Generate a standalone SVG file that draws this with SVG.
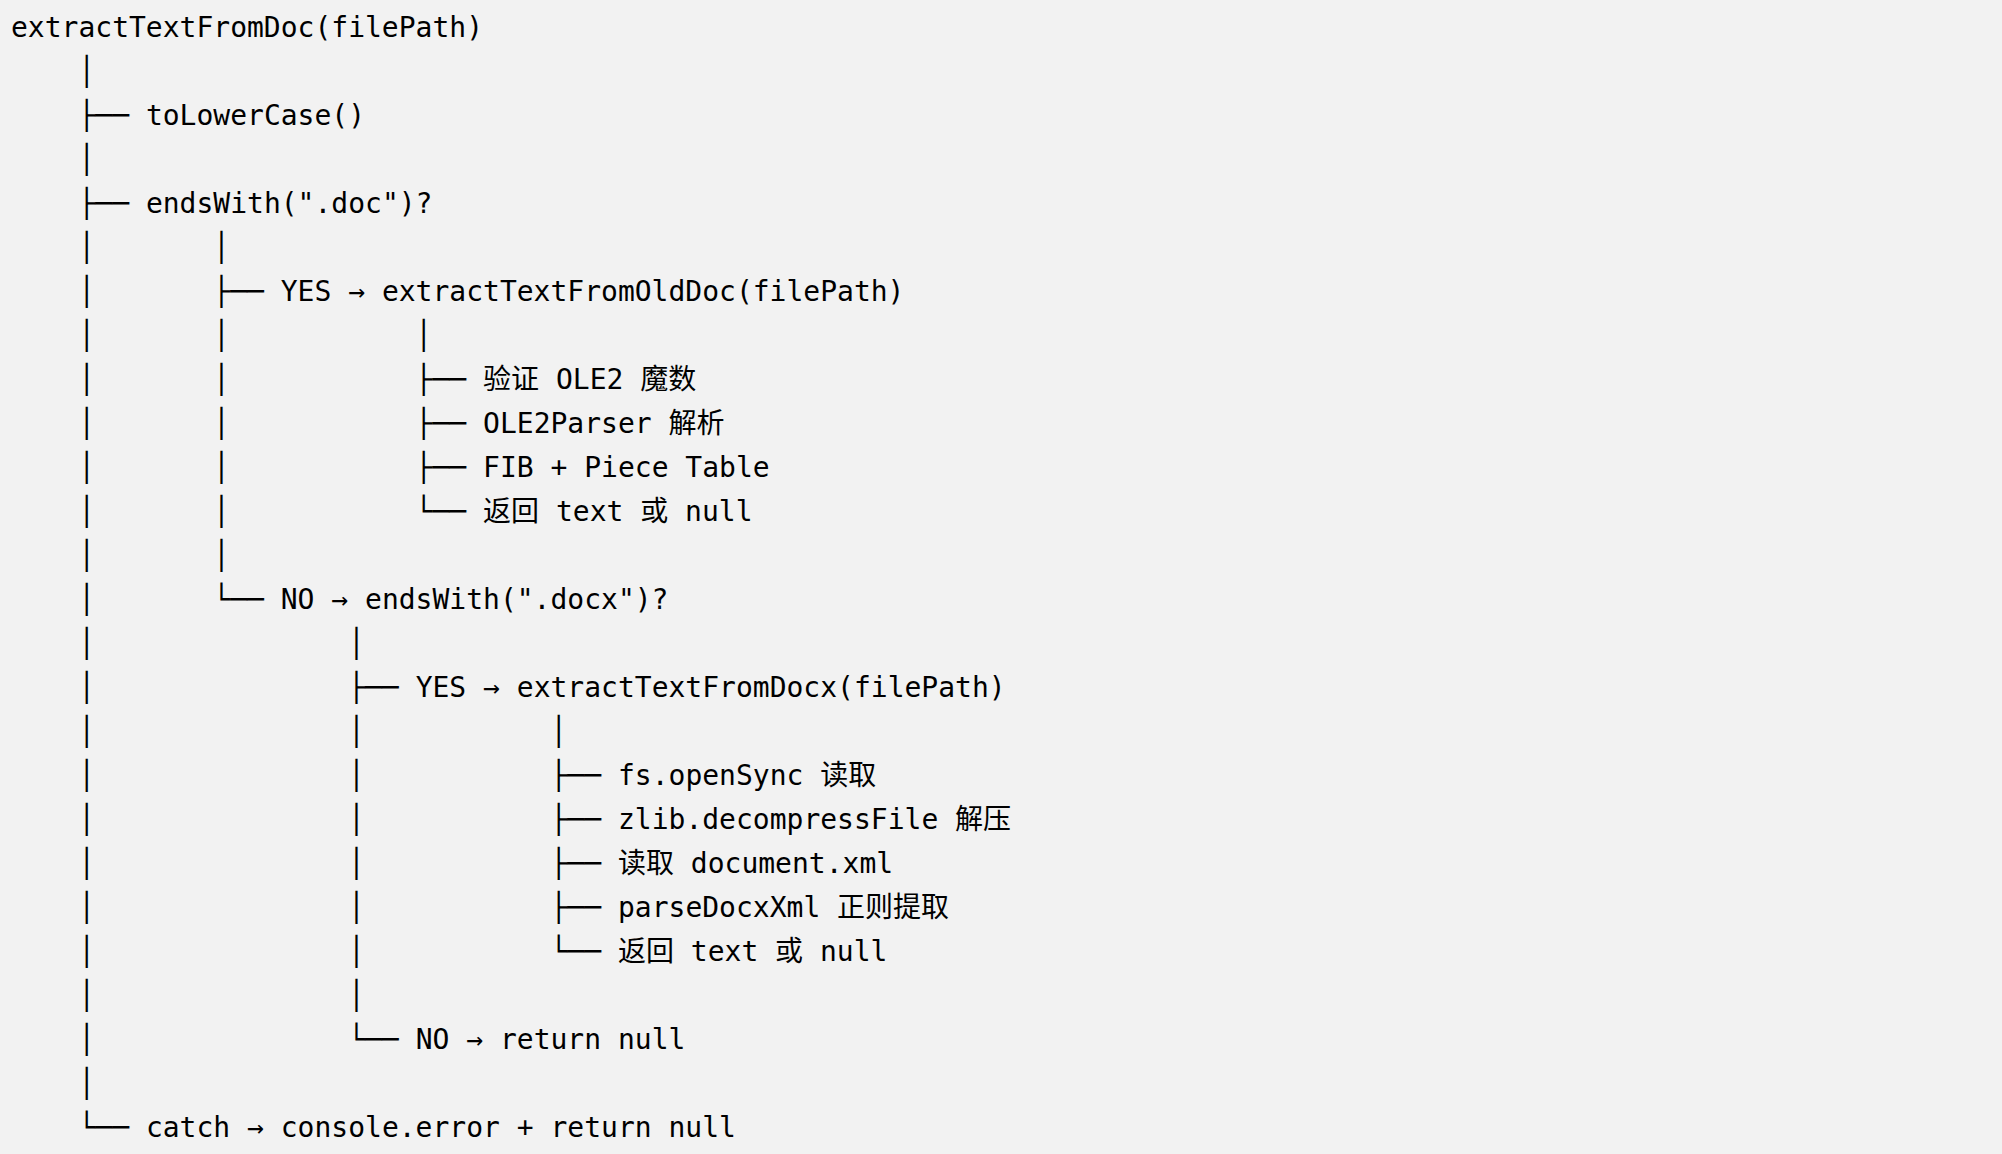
<svg xmlns="http://www.w3.org/2000/svg" width="2002" height="1154" viewBox="0 0 2002 1154" xml:space="preserve">
<style>
text { font-family: "DejaVu Sans Mono", "Noto Sans CJK SC", monospace; font-size: 28px; fill: #000; white-space: pre; }
</style>
<rect x="0" y="0" width="2002" height="1154" fill="#f2f2f2"/>
<g id="connectors">
<text x="11" y="81.3">    │</text>
<text x="11" y="125.3">    ├──</text>
<text x="11" y="169.3">    │</text>
<text x="11" y="213.3">    ├──</text>
<text x="11" y="257.3">    │       │</text>
<text x="11" y="301.3">    │       ├──</text>
<text x="11" y="345.3">    │       │           │</text>
<text x="11" y="389.3">    │       │           ├──</text>
<text x="11" y="433.3">    │       │           ├──</text>
<text x="11" y="477.3">    │       │           ├──</text>
<text x="11" y="521.3">    │       │           └──</text>
<text x="11" y="565.3">    │       │</text>
<text x="11" y="609.3">    │       └──</text>
<text x="11" y="653.3">    │               │</text>
<text x="11" y="697.3">    │               ├──</text>
<text x="11" y="741.3">    │               │           │</text>
<text x="11" y="785.3">    │               │           ├──</text>
<text x="11" y="829.3">    │               │           ├──</text>
<text x="11" y="873.3">    │               │           ├──</text>
<text x="11" y="917.3">    │               │           ├──</text>
<text x="11" y="961.3">    │               │           └──</text>
<text x="11" y="1005.3">    │               │</text>
<text x="11" y="1049.3">    │               └──</text>
<text x="11" y="1093.3">    │</text>
<text x="11" y="1137.3">    └──</text>
</g>
<g id="root"><text x="11" y="37.3">extractTextFromDoc(filePath)</text></g>
<g id="toLowerCase"><text x="145.88" y="125.3">toLowerCase()</text></g>
<g id="endsWithDoc"><text x="145.88" y="213.3">endsWith(".doc")?</text></g>
<g id="yesOldDoc"><text x="280.76" y="301.3">YES → extractTextFromOldDoc(filePath)</text></g>
<g id="ole2Magic"><text x="483.08" y="389.3">验证 OLE2 魔数</text></g>
<g id="ole2Parser"><text x="483.08" y="433.3">OLE2Parser 解析</text></g>
<g id="fibPieceTable"><text x="483.08" y="477.3">FIB + Piece Table</text></g>
<g id="oldDocReturn"><text x="483.08" y="521.3">返回 text 或 null</text></g>
<g id="noEndsWithDocx"><text x="280.76" y="609.3">NO → endsWith(".docx")?</text></g>
<g id="yesDocx"><text x="415.64" y="697.3">YES → extractTextFromDocx(filePath)</text></g>
<g id="fsOpenSync"><text x="617.96" y="785.3">fs.openSync 读取</text></g>
<g id="zlibDecompress"><text x="617.96" y="829.3">zlib.decompressFile 解压</text></g>
<g id="readDocumentXml"><text x="617.96" y="873.3">读取 document.xml</text></g>
<g id="parseDocxXml"><text x="617.96" y="917.3">parseDocxXml 正则提取</text></g>
<g id="docxReturn"><text x="617.96" y="961.3">返回 text 或 null</text></g>
<g id="noReturnNull"><text x="415.64" y="1049.3">NO → return null</text></g>
<g id="catchError"><text x="145.88" y="1137.3">catch → console.error + return null</text></g>
</svg>
